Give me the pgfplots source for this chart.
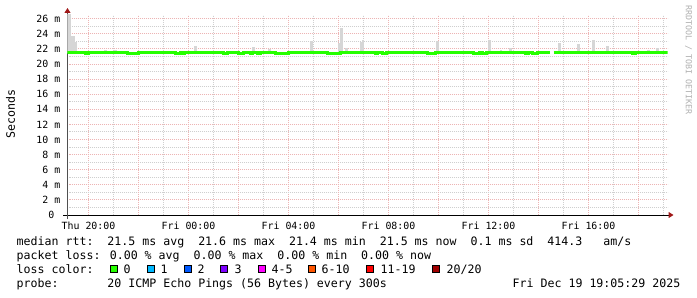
\documentclass[border=0pt]{standalone}
\usepackage{fontspec}
\setmainfont{DejaVu Sans Mono}
\usepackage{pgfplots}
\pgfplotsset{compat=1.18}
\usetikzlibrary{arrows.meta}
\definecolor{rttgreen}{HTML}{26FF00}
\definecolor{smoke}{HTML}{D6D6D6}
\definecolor{mgrid}{HTML}{EDB4B4}
\definecolor{mingrid}{HTML}{CFCFCF}
\definecolor{arrowred}{HTML}{A01818}
\definecolor{axgray}{HTML}{505050}
\definecolor{lc0}{HTML}{26FF00}
\definecolor{lc1}{HTML}{00B8FF}
\definecolor{lc2}{HTML}{0059FF}
\definecolor{lc3}{HTML}{7E00FF}
\definecolor{lc4}{HTML}{FF00FF}
\definecolor{lc6}{HTML}{FF5500}
\definecolor{lc11}{HTML}{FF0000}
\definecolor{lc20}{HTML}{A00000}
\newcommand{\tickfont}{\fontsize{9.9bp}{12bp}\selectfont}
\newcommand{\legfont}{\fontsize{11.6bp}{14bp}\selectfont}

% median RTT (ms), hours relative to Thu 20:00
\pgfplotstableread{
x y
-0.84 21.5
-0.12 21.4
0.00 21.5
1.56 21.4
2.00 21.5
3.48 21.4
3.68 21.5
3.76 21.4
3.84 21.5
5.40 21.4
5.56 21.5
6.00 21.4
6.20 21.5
6.48 21.4
6.56 21.5
6.76 21.4
6.88 21.5
7.48 21.4
8.00 21.5
9.56 21.4
10.08 21.5
11.48 21.4
11.56 21.5
11.76 21.4
11.92 21.5
13.56 21.4
13.88 21.5
15.40 21.4
15.64 21.5
15.76 21.4
15.92 21.5
17.48 21.4
17.60 21.5
17.76 21.4
17.96 21.5
18.47 21.5
18.48 nan
18.60 21.5
21.76 21.4
21.88 21.5
23.16 21.5
}\median

% smoke: base and spread above median
\pgfplotstableread{
x y e
-0.80 21.5 5.2
-0.74 21.5 5.2
-0.66 21.5 2.2
-0.58 21.5 2.2
-0.50 21.5 1.4
0.68 21.5 0.4
1.08 21.5 0.3
4.28 21.5 0.9
6.60 21.5 0.8
7.24 21.5 0.5
8.92 21.5 1.6
10.02 21.5 1.3
10.12 21.5 3.3
10.32 21.5 0.6
10.90 21.5 1.4
10.98 21.5 1.7
13.96 21.5 1.6
16.04 21.5 1.7
16.88 21.5 0.6
18.84 21.5 1.3
19.60 21.5 1.2
20.20 21.5 1.7
20.76 21.5 0.9
22.76 21.5 0.6
16.50 21.5 0.3
22.40 21.5 0.3
}\smokedata

\begin{document}
\begin{tikzpicture}[x=1bp,y=1bp]
\path[use as bounding box] (-67.5,-82) rectangle (629.5,215);
\begin{axis}[
  at={(0,0)}, anchor=south west,
  scale only axis, width=600bp, height=200bp,
  xmin=-0.84, xmax=23.16, ymin=0, ymax=26.5,
  axis x line*=bottom, axis y line*=left,
  x axis line style={draw=black, line width=1bp, shorten <=-4bp, shorten >=-6bp,
    -{Triangle[length=5bp,width=6bp,color=arrowred]}},
  y axis line style={draw=axgray, line width=1bp, shorten <=-4bp, shorten >=-7bp,
    -{Triangle[length=5bp,width=6bp,color=arrowred]}},
  xtick={0,4,...,20},
  xticklabels={Thu 20:00,Fri 00:00,Fri 04:00,Fri 08:00,Fri 12:00,Fri 16:00},
  extra x ticks={2,6,...,22},
  extra x tick labels={},
  extra x tick style={grid=major, major grid style={draw=mgrid, line width=1bp, dash pattern=on 1bp off 1bp}},
  minor xtick={1,3,...,23},
  ytick={0,2,...,26},
  yticklabels={0~~,2 m,4 m,6 m,8 m,10 m,12 m,14 m,16 m,18 m,20 m,22 m,24 m,26 m},
  minor ytick={1,3,...,25},
  grid=both,
  major grid style={draw=mgrid, line width=1bp, dash pattern=on 1bp off 1bp},
  minor grid style={draw=mingrid, line width=1bp, dash pattern=on 1bp off 1bp},
  tick style={draw=none},
  major tick length=0pt, minor tick length=0pt,
  /pgf/number format/assume math mode=true,
  xticklabel style={font=\tickfont, anchor=base, inner sep=0pt, yshift=-14bp},
  yticklabel style={font=\tickfont, anchor=east, inner sep=0pt, xshift=-7bp},
  unbounded coords=jump,
]
\addplot[draw=none, mark=none,
  error bars/.cd, y dir=plus, y explicit,
  error mark=none,
  error bar style={draw=smoke, line width=2.1bp}]
  table[x=x, y=y, y error plus=e] {\smokedata};
\addplot[const plot mark left, draw=rttgreen, line width=2.6bp, mark=none] table[x=x,y=y] {\median};
\end{axis}

\node[rotate=90, anchor=center, font=\legfont] at (-57,101) {Seconds};
\node[rotate=-90, anchor=center, font=\fontsize{8.3bp}{10bp}\selectfont, text={rgb,255:red,175;green,175;blue,175}] at (621,155) {RRDTOOL / TOBI OETIKER};

\node[anchor=base west, inner sep=0pt, font=\legfont] at (-51,-30)
  {median rtt:~~21.5 ms avg~~21.6 ms max~~21.4 ms min~~21.5 ms now~~0.1 ms sd~~414.3~~~am/s};
\node[anchor=base west, inner sep=0pt, font=\legfont] at (-51,-44)
  {packet loss: 0.00 \% avg~~0.00 \% max~~0.00 \% min~~0.00 \% now};
\node[anchor=base west, inner sep=0pt, font=\legfont] at (-51,-58) {loss color:};
\foreach \bx/\c in {42/lc0, 79/lc1, 116/lc2, 152/lc3, 190/lc4, 240/lc6, 298/lc11, 364/lc20}{
  \filldraw[fill=\c, draw=black, line width=0.9bp] (\bx+0.5,-57.5) rectangle ++(7,7);
}
\node[anchor=base west, inner sep=0pt, font=\legfont] at (56,-58) {0};
\node[anchor=base west, inner sep=0pt, font=\legfont] at (93,-58) {1};
\node[anchor=base west, inner sep=0pt, font=\legfont] at (130,-58) {2};
\node[anchor=base west, inner sep=0pt, font=\legfont] at (167,-58) {3};
\node[anchor=base west, inner sep=0pt, font=\legfont] at (204,-58) {4-5};
\node[anchor=base west, inner sep=0pt, font=\legfont] at (254,-58) {6-10};
\node[anchor=base west, inner sep=0pt, font=\legfont] at (313,-58) {11-19};
\node[anchor=base west, inner sep=0pt, font=\legfont] at (379,-58) {20/20};
\node[anchor=base west, inner sep=0pt, font=\legfont] at (-51,-72)
  {probe:~~~~~~~20 ICMP Echo Pings (56 Bytes) every 300s};
\node[anchor=base east, inner sep=0pt, font=\legfont] at (613,-72) {Fri Dec 19 19:05:29 2025};
\end{tikzpicture}
\end{document}
